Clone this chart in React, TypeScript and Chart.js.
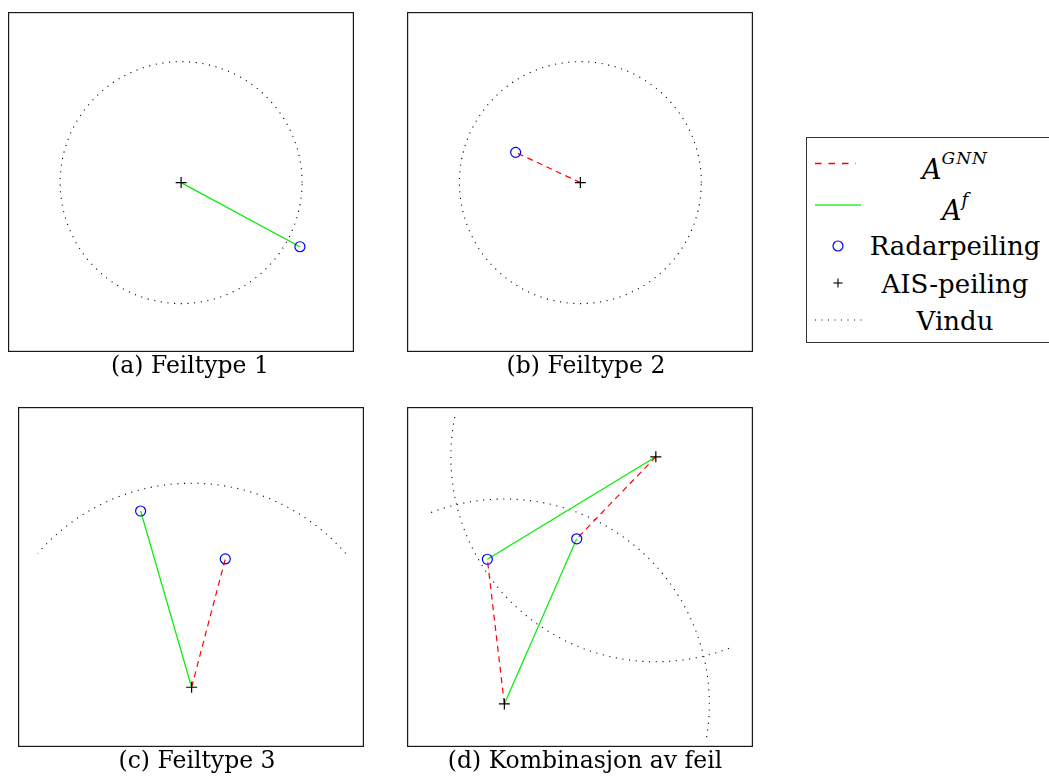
import React, { useEffect, useRef } from "react";
import { Chart, registerables } from "chart.js";

Chart.register(...registerables);

type Pt = { x: number; y: number };
type Link = [number, number]; // [radar index, AIS index]
type Win = { ais: number; r: number; from: number; to: number }; // angles in degrees (math convention)

// ---------- (a) Feiltype 1 ----------
const aisA: Pt[] = [{ x: 0, y: 0 }];
const radarA: Pt[] = [{ x: 0.982, y: -0.53 }];
const gnnA: Link[] = [];
const fA: Link[] = [[0, 0]];
const windowsA: Win[] = [{ ais: 0, r: 1, from: 0, to: 360 }];
const xRangeA = [-1.431, 1.429];
const yRangeA = [-1.4, 1.41];

// ---------- (b) Feiltype 2 ----------
const aisB: Pt[] = [{ x: 0, y: 0 }];
const radarB: Pt[] = [{ x: -0.535, y: 0.25 }];
const gnnB: Link[] = [[0, 0]];
const fB: Link[] = [];
const windowsB: Win[] = [{ ais: 0, r: 1, from: 0, to: 360 }];
const xRangeB = [-1.433, 1.427];
const yRangeB = [-1.4, 1.41];

// ---------- (c) Feiltype 3 ----------
const aisC: Pt[] = [{ x: 0, y: 0 }];
const radarC: Pt[] = [
  { x: -0.25, y: 0.864 },
  { x: 0.165, y: 0.629 },
];
const gnnC: Link[] = [[1, 0]];
const fC: Link[] = [[0, 0]];
const windowsC: Win[] = [{ ais: 0, r: 1, from: 41, to: 139 }];
const xRangeC = [-0.851, 0.845];
const yRangeC = [-0.293, 1.374];

// ---------- (d) Kombinasjon av feil ----------
const aisD: Pt[] = [
  { x: 0, y: 0 },
  { x: 0.739, y: 1.206 },
];
const radarD: Pt[] = [
  { x: -0.083, y: 0.706 },
  { x: 0.353, y: 0.806 },
];
const gnnD: Link[] = [
  [0, 0],
  [1, 1],
];
const fD: Link[] = [
  [0, 1],
  [1, 0],
];
const windowsD: Win[] = [
  { ais: 1, r: 1, from: 168.8, to: 291.8 },
  { ais: 0, r: 1, from: -9.3, to: 111.6 },
];
const xRangeD = [-0.475, 1.213];
const yRangeD = [-0.21, 1.449];

const captions = ["(a) Feiltype 1", "(b) Feiltype 2", "(c) Feiltype 3", "(d) Kombinasjon av feil"];
const legendLabels = ["Radarpeiling", "AIS-peiling", "Vindu"];

const panels = [
  { left: 8, top: 12, width: 346, height: 340, xr: xRangeA, yr: yRangeA, ais: aisA, radar: radarA, gnn: gnnA, f: fA, wins: windowsA, caption: captions[0], cx: 190, cy: 365 },
  { left: 407, top: 12, width: 346, height: 340, xr: xRangeB, yr: yRangeB, ais: aisB, radar: radarB, gnn: gnnB, f: fB, wins: windowsB, caption: captions[1], cx: 586, cy: 365 },
  { left: 18, top: 407, width: 346, height: 340, xr: xRangeC, yr: yRangeC, ais: aisC, radar: radarC, gnn: gnnC, f: fC, wins: windowsC, caption: captions[2], cx: 197, cy: 760 },
  { left: 407, top: 407, width: 346, height: 340, xr: xRangeD, yr: yRangeD, ais: aisD, radar: radarD, gnn: gnnD, f: fD, wins: windowsD, caption: captions[3], cx: 585, cy: 760 },
];

const SERIF = "'DejaVu Serif', 'Liberation Serif', serif";

function Panel({ p }: { p: (typeof panels)[number] }) {
  const ref = useRef<HTMLCanvasElement | null>(null);
  useEffect(() => {
    if (!ref.current) return;
    const datasets: any[] = [];
    p.gnn.forEach(([ri, ai]) => {
      datasets.push({
        data: [p.ais[ai], p.radar[ri]],
        showLine: true,
        borderColor: "#ff0000",
        borderWidth: 1.2,
        borderDash: [6, 4.5],
        pointRadius: 0,
        order: 2,
      });
    });
    p.f.forEach(([ri, ai]) => {
      datasets.push({
        data: [p.ais[ai], p.radar[ri]],
        showLine: true,
        borderColor: "#00ee00",
        borderWidth: 1.2,
        pointRadius: 0,
        order: 2,
      });
    });
    datasets.push({
      data: p.radar,
      showLine: false,
      pointStyle: "circle",
      pointRadius: 5,
      pointBorderColor: "#0000ff",
      pointBackgroundColor: "rgba(0,0,0,0)",
      pointBorderWidth: 1.2,
      order: 1,
    });
    datasets.push({
      data: p.ais,
      showLine: false,
      pointStyle: "cross",
      pointRadius: 5.5,
      pointBorderColor: "#000000",
      pointBorderWidth: 1.2,
      order: 0,
    });

    const windowPlugin = {
      id: "windows",
      beforeDatasetsDraw(chart: any) {
        const { ctx, scales } = chart;
        const xs = scales.x;
        const ys = scales.y;
        ctx.save();
        ctx.beginPath();
        const a = chart.chartArea;
        ctx.rect(a.left, a.top, a.right - a.left, a.bottom - a.top);
        ctx.clip();
        ctx.strokeStyle = "#000";
        ctx.lineWidth = 1.1;
        ctx.setLineDash([1.1, 5.6]);
        p.wins.forEach((w) => {
          const c = p.ais[w.ais];
          const px = xs.getPixelForValue(c.x);
          const py = ys.getPixelForValue(c.y);
          const r = xs.getPixelForValue(c.x + w.r) - px;
          ctx.beginPath();
          ctx.arc(px, py, r, (-w.from * Math.PI) / 180, (-w.to * Math.PI) / 180, true);
          ctx.stroke();
        });
        ctx.restore();
      },
    };
    const framePlugin = {
      id: "frame",
      afterDraw(chart: any) {
        const { ctx, chartArea: a } = chart;
        ctx.save();
        ctx.strokeStyle = "#1a1a1a";
        ctx.lineWidth = 1.2;
        ctx.setLineDash([]);
        ctx.strokeRect(a.left + 0.6, a.top + 0.6, a.right - a.left - 1.2, a.bottom - a.top - 1.2);
        ctx.restore();
      },
    };

    const chart = new Chart(ref.current, {
      type: "scatter",
      data: { datasets },
      options: {
        animation: false,
        responsive: false,
        maintainAspectRatio: false,
        events: [],
        layout: { padding: 0, autoPadding: false },
        scales: {
          x: { type: "linear", min: p.xr[0], max: p.xr[1], display: false },
          y: { type: "linear", min: p.yr[0], max: p.yr[1], display: false },
        },
        plugins: { legend: { display: false }, tooltip: { enabled: false } },
      },
      plugins: [windowPlugin, framePlugin],
    } as any);
    return () => chart.destroy();
  }, [p]);

  return (
    <>
      <canvas
        ref={ref}
        width={p.width}
        height={p.height}
        style={{ position: "absolute", left: p.left, top: p.top, width: p.width, height: p.height }}
      />
      <div
        style={{
          position: "absolute",
          left: p.cx - 200,
          top: p.cy - 15,
          width: 400,
          height: 30,
          display: "flex",
          alignItems: "center",
          justifyContent: "center",
          fontFamily: SERIF,
          fontSize: 23.5,
          color: "#000",
          whiteSpace: "nowrap",
        }}
      >
        {p.caption}
      </div>
    </>
  );
}

function Legend() {
  const rowStyle = (cy: number): React.CSSProperties => ({
    position: "absolute",
    left: 0,
    top: cy - 17,
    width: 296,
    height: 34,
    display: "flex",
    alignItems: "center",
    justifyContent: "center",
    fontFamily: SERIF,
    fontSize: 26,
    color: "#000",
    whiteSpace: "nowrap",
  });
  return (
    <div
      style={{
        position: "absolute",
        left: 806,
        top: 137,
        width: 280,
        height: 206,
        border: "1px solid #333",
        boxSizing: "border-box",
        background: "#fff",
      }}
    >
      <svg width={70} height={206} style={{ position: "absolute", left: -1, top: -1 }}>
        <line x1={9} y1={26.5} x2={50} y2={26.5} stroke="#ff0000" strokeWidth={1.5} strokeDasharray="6.5 7" />
        <line x1={9} y1={68} x2={55} y2={68} stroke="#33ee33" strokeWidth={1.6} />
        <circle cx={32} cy={109} r={5} fill="none" stroke="#0000ff" strokeWidth={1.2} />
        <line x1={27.5} y1={146} x2={36.5} y2={146} stroke="#000" strokeWidth={1.1} />
        <line x1={32} y1={141.5} x2={32} y2={150.5} stroke="#000" strokeWidth={1.1} />
        <line x1={9} y1={183} x2={56} y2={183} stroke="#000" strokeWidth={1.1} strokeDasharray="1 5.5" />
      </svg>
      <div style={rowStyle(31)}>
        <span style={{ fontStyle: "italic", fontSize: 27 }}>A</span>
        <span style={{ fontStyle: "italic", fontSize: 17, position: "relative", top: -11, letterSpacing: 1 }}>GNN</span>
      </div>
      <div style={rowStyle(72)}>
        <span style={{ fontStyle: "italic", fontSize: 27 }}>A</span>
        <span style={{ fontStyle: "italic", fontSize: 18, position: "relative", top: -11 }}>f</span>
      </div>
      <div style={rowStyle(108)}>{legendLabels[0]}</div>
      <div style={rowStyle(146)}>{legendLabels[1]}</div>
      <div style={rowStyle(183)}>{legendLabels[2]}</div>
    </div>
  );
}

export default function App() {
  return (
    <div
      style={{
        position: "fixed",
        left: 0,
        top: 0,
        width: 1049,
        height: 776,
        overflow: "hidden",
        background: "#fff",
      }}
    >
      {panels.map((p, i) => (
        <Panel key={i} p={p} />
      ))}
      <Legend />
    </div>
  );
}
